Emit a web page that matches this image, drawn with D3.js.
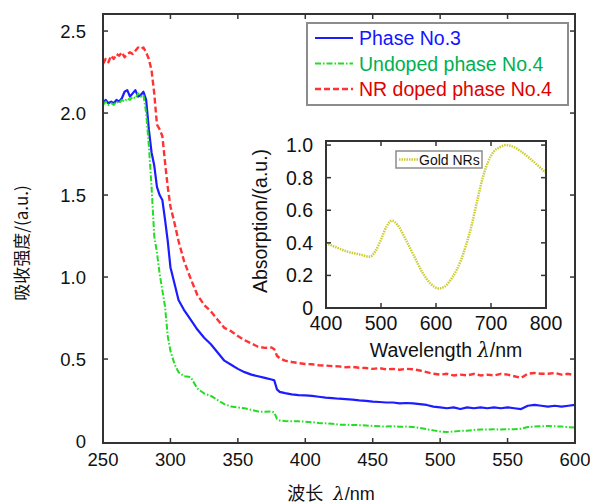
<!DOCTYPE html>
<html>
<head>
<meta charset="utf-8">
<script src="https://cdn.jsdelivr.net/npm/d3@7"></script>
<style>
    body { margin: 0; background: #fff; }
    text { font-family: "Liberation Sans", Arial, sans-serif; fill: #111; }
    .cjk { font-family: "Noto Sans CJK SC", "Liberation Sans", sans-serif; }
    .frame { fill: none; stroke: #333; stroke-width: 2; }
    .tick-line { stroke: #333; stroke-width: 1.5; }
</style>
</head>
<body>
<div id="chart"></div>
<script>
// wavelength grid (nm) shared by the three spectra
var wavelengths = [250,252,254,256,258,260,262,264,266,268,270,272,274,276,278,280,
    282,284,286,288,290,292,294,296,298,300,
    303,306,310,315,320,325,330,335,340,345,350,355,360,365,370,375,
    377,379,381,385,390,395,400,
    405,410,415,420,425,430,435,440,445,450,455,460,465,470,475,480,485,490,495,500,
    505,510,515,520,525,530,535,540,545,550,555,560,565,570,575,580,585,590,595,600];

var phase3 = [2.06,2.08,2.06,2.07,2.06,2.08,2.07,2.09,2.13,2.14,2.10,2.12,2.14,2.10,2.11,2.13,
    2.08,1.90,1.76,1.68,1.55,1.50,1.47,1.35,1.22,1.06,
    0.96,0.86,0.80,0.74,0.68,0.63,0.59,0.54,0.49,0.465,0.44,0.42,0.405,0.395,0.385,0.375,
    0.37,0.315,0.30,0.292,0.285,0.28,0.278,
    0.275,0.27,0.265,0.262,0.258,0.255,0.252,0.248,0.245,0.24,0.238,0.235,0.235,0.23,0.232,0.23,0.225,0.22,0.21,0.205,
    0.20,0.205,0.195,0.205,0.20,0.205,0.20,0.205,0.20,0.205,0.20,0.195,0.215,0.22,0.215,0.21,0.215,0.21,0.215,0.22];

var undoped4 = [2.05,2.07,2.05,2.06,2.05,2.07,2.06,2.08,2.07,2.09,2.08,2.10,2.09,2.12,2.10,2.11,
    2.00,1.80,1.55,1.25,1.15,1.02,0.92,0.82,0.64,0.55,
    0.47,0.42,0.395,0.39,0.32,0.29,0.275,0.25,0.225,0.21,0.205,0.20,0.19,0.18,0.178,0.18,
    0.175,0.135,0.125,0.122,0.12,0.12,0.118,
    0.115,0.11,0.108,0.105,0.10,0.10,0.098,0.097,0.095,0.092,0.09,0.088,0.09,0.087,0.088,0.085,0.08,0.072,0.065,0.058,
    0.055,0.058,0.062,0.063,0.068,0.07,0.07,0.072,0.07,0.072,0.072,0.075,0.085,0.088,0.09,0.092,0.09,0.088,0.085,0.082];

var nrDoped4 = [2.30,2.33,2.31,2.35,2.33,2.36,2.35,2.37,2.34,2.36,2.37,2.36,2.38,2.40,2.39,2.40,
    2.37,2.33,2.26,2.12,1.93,1.90,1.86,1.70,1.55,1.43,
    1.33,1.22,1.10,0.99,0.89,0.83,0.79,0.74,0.69,0.67,0.64,0.615,0.595,0.575,0.568,0.57,
    0.56,0.52,0.505,0.49,0.482,0.475,0.47,
    0.468,0.462,0.46,0.457,0.455,0.45,0.452,0.447,0.445,0.44,0.445,0.437,0.44,0.435,0.44,0.438,0.43,0.42,0.41,0.405,
    0.41,0.40,0.405,0.40,0.41,0.40,0.405,0.40,0.41,0.405,0.395,0.385,0.41,0.415,0.41,0.41,0.415,0.405,0.41,0.40];

var seriesNames = ["Phase No.3", "Undoped phase No.4", "NR doped phase No.4"];

// inset: gold nanorods absorption
var goldWavelengths = [400,420,440,460,480,490,500,510,520,530,545,560,575,590,605,615,630,645,655,665,675,685,695,705,715,728,740,755,770,785,800];
var goldAbsorption = [0.40,0.37,0.345,0.33,0.315,0.35,0.42,0.50,0.536,0.51,0.42,0.32,0.22,0.15,0.12,0.13,0.19,0.29,0.39,0.51,0.66,0.80,0.90,0.96,0.985,1.0,0.99,0.96,0.92,0.875,0.83];

var mainXTicks = [250,300,350,400,450,500,550,600];
var mainYTicks = [0,0.5,1.0,1.5,2.0,2.5];
var insetXTicks = [400,500,600,700,800];
var insetYTicks = [0,0.2,0.4,0.6,0.8,1.0];

(function() {
    var width = 590, height = 504;
    var svg = d3.select("#chart").append("svg")
        .attr("width", width)
        .attr("height", height);

    var styles = [
        {stroke: "#1c1cff", text: "#1414ff", dash: null, width: 2.2},
        {stroke: "#22dd22", text: "#00b050", dash: "6,2,1.5,2", width: 2},
        {stroke: "#ff3333", text: "#e00000", dash: "6,3", width: 2.4}
    ];

    // main plot box
    var box = {left: 103, top: 14, right: 575, bottom: 443};
    var x = d3.scaleLinear().domain([250, 600]).range([box.left, box.right]);
    var y = d3.scaleLinear().domain([-0.012, 2.604]).range([box.bottom, box.top]);

    function drawFrame(g, b, xs, ys, xt, yt, tickLen) {
        g.append("rect")
            .classed("frame", true)
            .attr("x", b.left).attr("y", b.top)
            .attr("width", b.right - b.left).attr("height", b.bottom - b.top);
        xt.forEach(function(t) {
            if (xs(t) <= b.left + 1 || xs(t) >= b.right - 1) return;
            g.append("line").classed("tick-line", true)
                .attr("x1", xs(t)).attr("x2", xs(t)).attr("y1", b.bottom).attr("y2", b.bottom - tickLen);
            g.append("line").classed("tick-line", true)
                .attr("x1", xs(t)).attr("x2", xs(t)).attr("y1", b.top).attr("y2", b.top + tickLen);
        });
        yt.forEach(function(t) {
            if (ys(t) >= b.bottom - 3 || ys(t) <= b.top + 1) return;
            g.append("line").classed("tick-line", true)
                .attr("x1", b.left).attr("x2", b.left + tickLen).attr("y1", ys(t)).attr("y2", ys(t));
            g.append("line").classed("tick-line", true)
                .attr("x1", b.right).attr("x2", b.right - tickLen).attr("y1", ys(t)).attr("y2", ys(t));
        });
    }

    var line = d3.line()
        .x(function(d) { return x(d[0]); })
        .y(function(d) { return y(d[1]); });

    var curves = svg.append("g").classed("curves", true);
    [phase3, undoped4, nrDoped4].forEach(function(values, i) {
        var pts = wavelengths.map(function(w, k) { return [w, values[k]]; });
        curves.append("path")
            .datum(pts)
            .attr("d", line)
            .attr("fill", "none")
            .attr("stroke", styles[i].stroke)
            .attr("stroke-width", styles[i].width)
            .attr("stroke-dasharray", styles[i].dash)
            .attr("stroke-linejoin", "round");
    });

    drawFrame(svg.append("g"), box, x, y, mainXTicks, mainYTicks, 5);

    svg.append("g").selectAll("text")
        .data(mainXTicks).enter()
        .append("text")
            .attr("x", function(d) { return x(d); })
            .attr("y", 466)
            .attr("text-anchor", "middle")
            .style("font-size", "18.5px")
            .text(function(d) { return d; });

    svg.append("g").selectAll("text")
        .data(mainYTicks).enter()
        .append("text")
            .attr("x", 86)
            .attr("y", function(d) { return y(d) + 6.5; })
            .attr("text-anchor", "end")
            .style("font-size", "18.5px")
            .text(function(d) { return d === 0 ? "0" : d.toFixed(1); });

    svg.append("text")
        .classed("cjk", true)
        .attr("transform", "translate(28, 243) rotate(-90)")
        .attr("text-anchor", "middle")
        .style("font-size", "17px")
        .text("吸收强度/(a.u.)");

    var xLabel = svg.append("text")
        .attr("x", 331)
        .attr("y", 500)
        .attr("text-anchor", "middle")
        .style("font-size", "18px");
    xLabel.append("tspan").classed("cjk", true).text("波长");
    xLabel.append("tspan").attr("dx", 10).style("font-style", "italic").style("font-family", "'DejaVu Serif', serif").text("λ");
    xLabel.append("tspan").text("/nm");

    // legend
    var legend = svg.append("g").classed("legend", true);
    legend.append("rect")
        .attr("x", 307).attr("y", 23).attr("width", 261).attr("height", 82)
        .attr("fill", "#fff").attr("stroke", "#8c8c8c").attr("stroke-width", 2);
    seriesNames.forEach(function(name, i) {
        var ly = 38 + i * 25.5;
        legend.append("line")
            .attr("x1", 315).attr("x2", 353).attr("y1", ly).attr("y2", ly)
            .attr("stroke", styles[i].stroke)
            .attr("stroke-width", styles[i].width)
            .attr("stroke-dasharray", styles[i].dash);
        legend.append("text")
            .attr("x", 359).attr("y", ly + 7)
            .style("font-size", "19.5px")
            .style("fill", styles[i].text)
            .text(name);
    });

    // inset
    var ibox = {left: 326, top: 141, right: 546, bottom: 308};
    var ix = d3.scaleLinear().domain([400, 800]).range([ibox.left, ibox.right]);
    var iy = d3.scaleLinear().domain([0, 1.025]).range([ibox.bottom, ibox.top]);
    var inset = svg.append("g").classed("inset", true);

    inset.append("path")
        .datum(goldWavelengths.map(function(w, k) { return [w, goldAbsorption[k]]; }))
        .attr("d", d3.line().curve(d3.curveMonotoneX)
            .x(function(d) { return ix(d[0]); })
            .y(function(d) { return iy(d[1]); }))
        .attr("fill", "none")
        .attr("stroke", "#cccc33")
        .attr("stroke-width", 2.5)
        .attr("stroke-dasharray", "1.5,1");

    drawFrame(inset, ibox, ix, iy, insetXTicks, insetYTicks, 5);

    inset.append("g").selectAll("text")
        .data(insetXTicks).enter()
        .append("text")
            .attr("x", function(d) { return ix(d); })
            .attr("y", 330)
            .attr("text-anchor", "middle")
            .style("font-size", "19.5px")
            .text(function(d) { return d; });

    inset.append("g").selectAll("text")
        .data(insetYTicks).enter()
        .append("text")
            .attr("x", 313)
            .attr("y", function(d) { return iy(d) + 7; })
            .attr("text-anchor", "end")
            .style("font-size", "19.5px")
            .text(function(d) { return d === 0 ? "0" : d.toFixed(1); });

    inset.append("text")
        .attr("transform", "translate(267, 221) rotate(-90)")
        .attr("text-anchor", "middle")
        .style("font-size", "19.5px")
        .text("Absorption/(a.u.)");

    var wl = inset.append("text")
        .attr("x", 446)
        .attr("y", 357)
        .attr("text-anchor", "middle")
        .style("font-size", "19.5px");
    wl.append("tspan").text("Wavelength ");
    wl.append("tspan").style("font-style", "italic").style("font-family", "'DejaVu Serif', serif").text("λ");
    wl.append("tspan").text("/nm");

    // inset legend
    inset.append("rect")
        .attr("x", 396).attr("y", 151).attr("width", 86).attr("height", 17)
        .attr("fill", "#fff").attr("stroke", "#8c8c8c").attr("stroke-width", 1.5);
    inset.append("line")
        .attr("x1", 399).attr("x2", 419).attr("y1", 159.5).attr("y2", 159.5)
        .attr("stroke", "#cccc33").attr("stroke-width", 2.5).attr("stroke-dasharray", "1.5,1");
    inset.append("text")
        .attr("x", 419).attr("y", 165)
        .style("font-size", "14px")
        .text("Gold NRs");
})()
</script>
</body>
</html>
